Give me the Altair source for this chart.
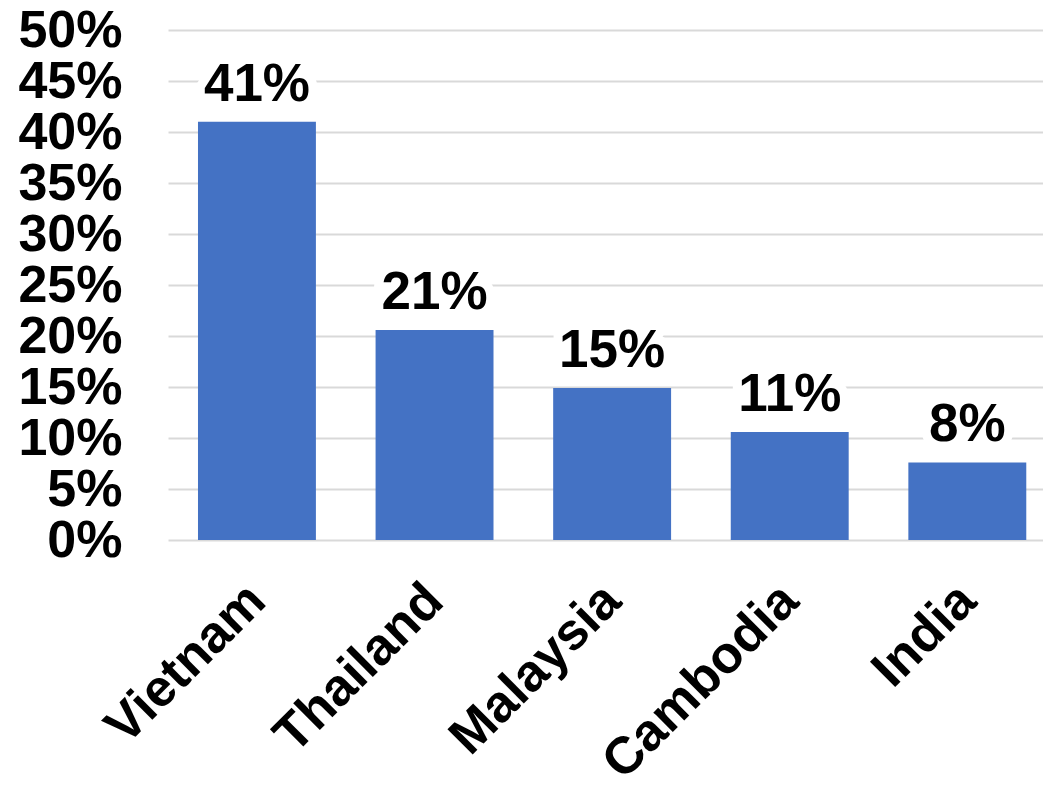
import altair as alt
import pandas as pd

countries = ["Vietnam", "Thailand", "Malaysia", "Cambodia", "India"]
shares = [0.41, 0.206, 0.149, 0.106, 0.076]

df = pd.DataFrame({"country": countries, "share": shares})

FONT = "Liberation Sans"

x = alt.X("country:N", sort=countries, title=None,
          scale=alt.Scale(paddingInner=0.336, paddingOuter=0.1315, align=0.642),
          axis=alt.Axis(labelAngle=-45, labelAlign="right", labelBaseline="middle",
                        labelFont=FONT, labelFontSize=52, labelFontWeight="bold",
                        labelColor="black", labelPadding=52, labelLimit=0,
                        labelOverlap=False, ticks=False, domain=False, grid=False))
y = alt.Y("share:Q", title=None,
          scale=alt.Scale(domain=[0, 0.5], nice=False),
          axis=alt.Axis(values=[i * 0.05 for i in range(11)], format=".0%",
                        labelFont=FONT, labelFontSize=52, labelFontWeight="bold",
                        labelColor="black", labelPadding=46, labelOverlap=False,
                        ticks=False, domain=False,
                        gridColor="#d9d9d9", gridWidth=2))

base = alt.Chart(df)
bars = base.mark_bar(color="#4472C4").encode(x=x, y=y)
halo = base.mark_text(font=FONT, fontSize=53, fontWeight="bold", baseline="alphabetic",
                      dy=-21, color="white", stroke="white", strokeWidth=18).encode(
    x=x, y=y, text=alt.Text("share:Q", format=".0%"))
labels = base.mark_text(font=FONT, fontSize=53, fontWeight="bold", baseline="alphabetic",
                        dy=-21, color="black").encode(
    x=x, y=y, text=alt.Text("share:Q", format=".0%"))

chart = (bars + halo + labels).properties(
    width=875, height=510,
    autosize=alt.AutoSizeParams(type="none"),
    padding={"left": 160, "top": 22, "right": 0, "bottom": 245},
).configure_view(stroke=None)

chart.save("out.html", embed_options={"renderer": "svg", "actions": False})
